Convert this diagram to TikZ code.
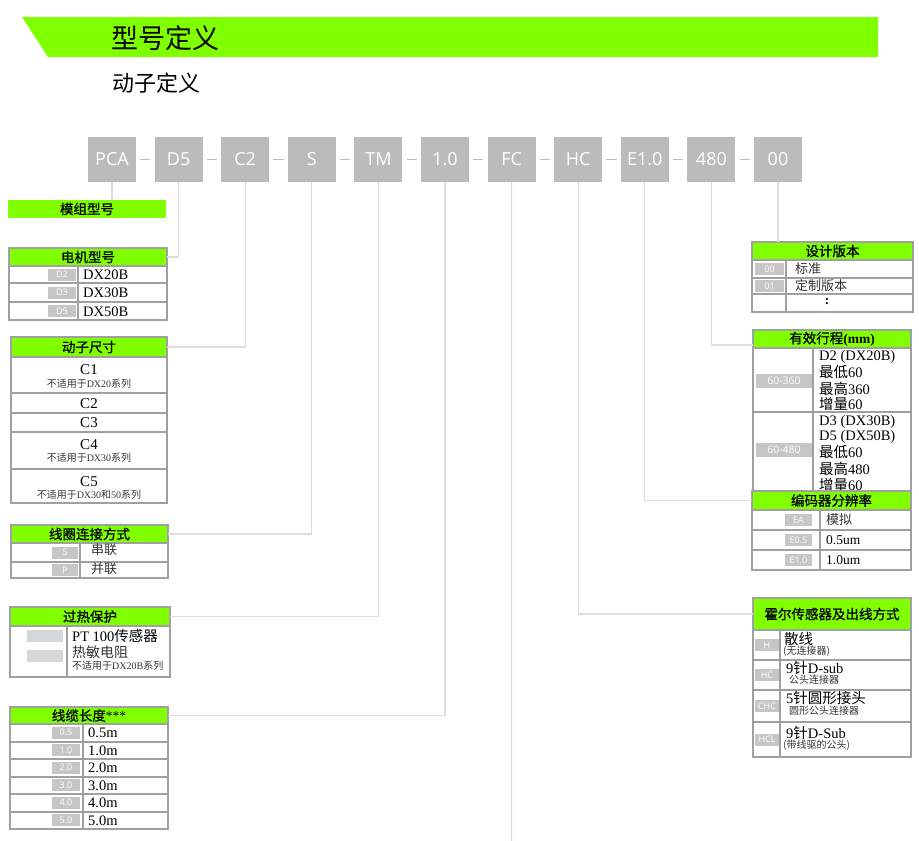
\documentclass[tikz,border=0pt]{standalone}
\usepackage{fontspec}
\setmainfont{Liberation Serif}
\newfontfamily\cjk{Noto Sans CJK SC}
\newfontfamily\cjkb[FakeBold=0.8]{Noto Sans CJK SC}
\newfontfamily\codef{Open Sans}
\newcommand\zh[1]{{\cjk #1}}
\definecolor{hdrgreen}{HTML}{80FF00}
\definecolor{codegray}{HTML}{BBBBBB}
\definecolor{tblgray}{HTML}{A0A0A0}
\definecolor{tilegray}{HTML}{C6C6C6}
\definecolor{conngray}{HTML}{DDDDDD}
\definecolor{notegray}{HTML}{333333}
\begin{document}
\begin{tikzpicture}[x=1pt,y=-1pt,
  conn/.style={draw=conngray, line width=1.2pt},
  dashln/.style={draw=codegray, line width=1.5pt},
  codebox/.style={fill=codegray, text=white, minimum width=48pt, minimum height=45pt, inner sep=0pt, font=\codef\fontsize{18}{18}\selectfont},
  hdr/.style={fill=hdrgreen, inner sep=0pt, font=\cjkb\fontsize{13.5}{14}\selectfont},
  frame/.style={draw=tblgray, line width=2pt},
  tile/.style={fill=tilegray, text=white, inner sep=0pt, minimum height=12pt, font=\codef\fontsize{9}{10}\selectfont},
  rt/.style={anchor=west, inner sep=0pt, font=\fontsize{14.5}{15}\selectfont},
  rz/.style={anchor=west, inner sep=0pt, text=notegray, font=\cjk\fontsize{13}{14}\selectfont},
  note/.style={inner sep=0pt, text=notegray, font=\fontsize{10}{11}\selectfont},
]
\useasboundingbox (0,0) rectangle (919,841);

% title band
\fill[hdrgreen] (22,17) -- (878,17) -- (878,57) -- (48,57) -- cycle;
\node[anchor=west, inner sep=0pt] (title) at (111,38) {\cjk\fontsize{27}{27}\selectfont 型号定义};
\node[anchor=west, inner sep=0pt] (subtitle) at (112,83) {\cjk\fontsize{22}{22}\selectfont 动子定义};

% code boxes
\foreach \t/\n [count=\i from 0] in {PCA/pca,D5/d5,C2/c2,S/s,TM/tm,1.0/len,FC/fc,HC/hc,E1.0/enc,480/str,00/ver}
  \node[codebox] (\n) at ({112+66.6*\i},159.5) {\t};
\foreach \a/\b in {pca/d5,d5/c2,c2/s,s/tm,tm/len,len/fc,fc/hc,hc/enc,enc/str,str/ver}
  \draw[dashln] ([xshift=4pt]\a.east) -- ([xshift=-4pt]\b.west);

% ---------- left side ----------
\node[hdr, minimum width=158pt, minimum height=18pt] (modhdr) at (87,209) {模组型号};

% motor
\node[hdr, minimum width=158pt, minimum height=18pt] (motorhdr) at (88,257) {电机型号};
\draw[frame] (9,248) rectangle (167,320);
\draw[frame] (9,266) -- (167,266) (9,283) -- (167,283) (9,302) -- (167,302) (78,266) -- (78,320);
\node[tile, minimum width=28pt] (td2) at (62,274.5) {D2};
\node[tile, minimum width=28pt] (td3) at (62,292.5) {D3};
\node[tile, minimum width=28pt] (td5) at (62,311) {D5};
\node[rt] (md2) at (83,275) {DX20B};
\node[rt] (md3) at (83,293) {DX30B};
\node[rt] (md5) at (83,311.5) {DX50B};

% size
\node[hdr, minimum width=156pt, minimum height=20pt] (sizehdr) at (89,347) {动子尺寸};
\draw[frame] (11,337) rectangle (167,503);
\draw[frame] (11,357) -- (167,357) (11,393) -- (167,393) (11,413) -- (167,413) (11,432) -- (167,432) (11,469) -- (167,469);
\node[inner sep=0pt, font=\fontsize{15}{15}\selectfont] (sc1) at (89,370) {C1};
\node[note] (sn1) at (89,383.5) {\zh{不适用于}DX20\zh{系列}};
\node[inner sep=0pt, font=\fontsize{15}{15}\selectfont] (sc2) at (89,403.5) {C2};
\node[inner sep=0pt, font=\fontsize{15}{15}\selectfont] (sc3) at (89,422.5) {C3};
\node[inner sep=0pt, font=\fontsize{15}{15}\selectfont] (sc4) at (89,445) {C4};
\node[note] (sn4) at (89,458) {\zh{不适用于}DX30\zh{系列}};
\node[inner sep=0pt, font=\fontsize{15}{15}\selectfont] (sc5) at (89,481.5) {C5};
\node[note] (sn5) at (89,494.5) {\zh{不适用于}DX30\zh{和}50\zh{系列}};

% coil
\node[hdr, minimum width=157pt, minimum height=18pt] (coilhdr) at (89.5,534) {线圈连接方式};
\draw[frame] (11,525) rectangle (168,578);
\draw[frame] (11,543) -- (168,543) (11,562) -- (168,562) (80,543) -- (80,578);
\node[tile, minimum width=26pt] (ts) at (65,552.5) {S};
\node[tile, minimum width=26pt] (tp) at (65,570) {P};
\node[rz] (cs) at (91,550) {串联};
\node[rz] (cp) at (91,569) {并联};

% heat
\node[hdr, minimum width=160pt, minimum height=19pt] (heathdr) at (90,616.5) {过热保护};
\draw[frame] (10,607) rectangle (170,677);
\draw[frame] (10,626) -- (170,626) (67,626) -- (67,677);
\node[tile, minimum width=36pt, fill=tilegray!70] (th1) at (45,635.5) {};
\node[tile, minimum width=36pt, fill=tilegray!70] (th2) at (45,656) {};
\node[rt] (hpt) at (72,636) {PT 100\zh{传感器}};
\node[rz, font=\cjk\fontsize{14}{14}\selectfont] (hth) at (72,652) {热敏电阻};
\node[note, anchor=west] (hnote) at (72,666) {\zh{不适用于}DX20B\zh{系列}};

% cable
\node[hdr, minimum width=158pt, minimum height=17pt] (cablehdr) at (89,715.5) {线缆长度\rmfamily***};
\draw[frame] (10,707) rectangle (168,829);
\foreach \k in {1,...,5} \draw[frame] (10,{724+17.5*\k}) -- (168,{724+17.5*\k});
\draw[frame] (10,724) -- (168,724) (83,724) -- (83,829);
\foreach \v/\n [count=\k from 0] in {0.5/a,1.0/b,2.0/c,3.0/d,4.0/e,5.0/f} {
  \node[tile, minimum width=28pt] (tc\n) at (66,{732.75+17.5*\k}) {\v};
  \node[rt] (lc\n) at (88,{733.25+17.5*\k}) {\v m};
}

% ---------- right side ----------
% version
\node[hdr, minimum width=161pt, minimum height=18pt] (verhdr) at (832.5,251) {设计版本};
\draw[frame] (752,242) rectangle (913,312);
\draw[frame] (752,260) -- (913,260) (752,278) -- (913,278) (752,294) -- (913,294) (786,260) -- (786,312);
\node[tile, minimum width=29pt] (tv0) at (769.5,269) {00};
\node[tile, minimum width=29pt] (tv1) at (769.5,286) {01};
\node[rz] (v0) at (795,268.5) {标准};
\node[rz] (v1) at (795,285.5) {定制版本};
\node[inner sep=0pt, font=\bfseries\fontsize{13}{14}\selectfont] (v2) at (827,302) {:};

% stroke
\node[hdr, minimum width=158pt, minimum height=18pt] (strokehdr) at (832,339) {有效行程\rmfamily\bfseries(mm)};
\draw[frame] (753,330) rectangle (911,492);
\draw[frame] (753,348) -- (911,348) (753,412) -- (911,412) (813,348) -- (813,492);
\node[tile, minimum width=56pt, minimum height=14pt, font=\codef\fontsize{10.5}{11}\selectfont] (ts1) at (784,381) {60-360};
\node[tile, minimum width=56pt, minimum height=14pt, font=\codef\fontsize{10.5}{11}\selectfont] (ts2) at (784,450) {60-480};
\node[rt] (s11) at (819,357) {D2 (DX20B)};
\node[rt] (s12) at (819,372.5) {\zh{最低}60};
\node[rt] (s13) at (819,388.5) {\zh{最高}360};
\node[rt] (s14) at (819,404) {\zh{增量}60};
\node[rt] (s21) at (819,422) {D3 (DX30B)};
\node[rt] (s22) at (819,437) {D5 (DX50B)};
\node[rt] (s23) at (819,452.5) {\zh{最低}60};
\node[rt] (s24) at (819,469) {\zh{最高}480};
\node[rt] (s25) at (819,484.5) {\zh{增量}60};
\coordinate (strokein) at (753,345);

% encoder
\node[hdr, minimum width=159pt, minimum height=19pt] (enchdr) at (831.5,500.5) {编码器分辨率};
\draw[frame] (752,491) rectangle (911,570);
\draw[frame] (752,510) -- (911,510) (752,530) -- (911,530) (752,550) -- (911,550) (820,510) -- (820,570);
\node[tile, minimum width=27pt] (te1) at (798.5,520) {EA};
\node[tile, minimum width=27pt] (te2) at (798.5,540) {E0.5};
\node[tile, minimum width=27pt] (te3) at (798.5,560) {E1.0};
\node[rz] (e1) at (826,519.5) {模拟};
\node[rt, font=\fontsize{13.5}{14}\selectfont] (e2) at (826,540) {0.5um};
\node[rt, font=\fontsize{13.5}{14}\selectfont] (e3) at (826,560) {1.0um};

% hall
\node[hdr, minimum width=158pt, minimum height=32pt] (hallhdr) at (832,614) {霍尔传感器及出线方式};
\draw[frame] (753,598) rectangle (911,757);
\draw[frame] (753,630) -- (911,630) (753,660) -- (911,660) (753,690) -- (911,690) (753,722) -- (911,722) (780,630) -- (780,757);
\node[tile, minimum width=24pt] (th) at (767,645) {H};
\node[tile, minimum width=24pt] (thc) at (767,675) {HC};
\node[tile, minimum width=24pt] (tchc) at (767,706) {CHC};
\node[tile, minimum width=24pt] (thcl) at (767,739.5) {HCL};
\node[rz, text=black, font=\cjk\fontsize{14.5}{15}\selectfont] (h1) at (784,639) {散线};
\node[note, anchor=west] (h1n) at (783,651.5) {\zh{(无连接器)}};
\node[rt] (h2) at (786,668) {9\zh{针}D-sub};
\node[note, anchor=west] (h2n) at (789,680) {\zh{公头连接器}};
\node[rt] (h3) at (786,698) {5\zh{针圆形接头}};
\node[note, anchor=west] (h3n) at (789,710.5) {\zh{圆形公头连接器}};
\node[rt] (h4) at (786,733) {9\zh{针}D-Sub};
\node[note, anchor=west] (h4n) at (783,745.5) {\zh{(带线驱的公头)}};

% ---------- connectors ----------
\coordinate (fcend) at (511.6,841);
\draw[conn] (pca.south) -- (pca.south |- modhdr.north);
\draw[conn] (d5.south) |- (motorhdr.east);
\draw[conn] (c2.south) |- (sizehdr.east);
\draw[conn] (s.south) |- (coilhdr.east);
\draw[conn] (tm.south) |- (heathdr.east);
\draw[conn] (len.south) |- (cablehdr.east);
\draw[conn] (fc.south) -- (fcend);
\draw[conn] (hc.south) |- (hallhdr.west);
\draw[conn] (enc.south) |- (enchdr.west);
\draw[conn] (str.south) |- (strokein);
\draw[conn] (ver.south) -- (ver.south |- verhdr.north);
\end{tikzpicture}
\end{document}
